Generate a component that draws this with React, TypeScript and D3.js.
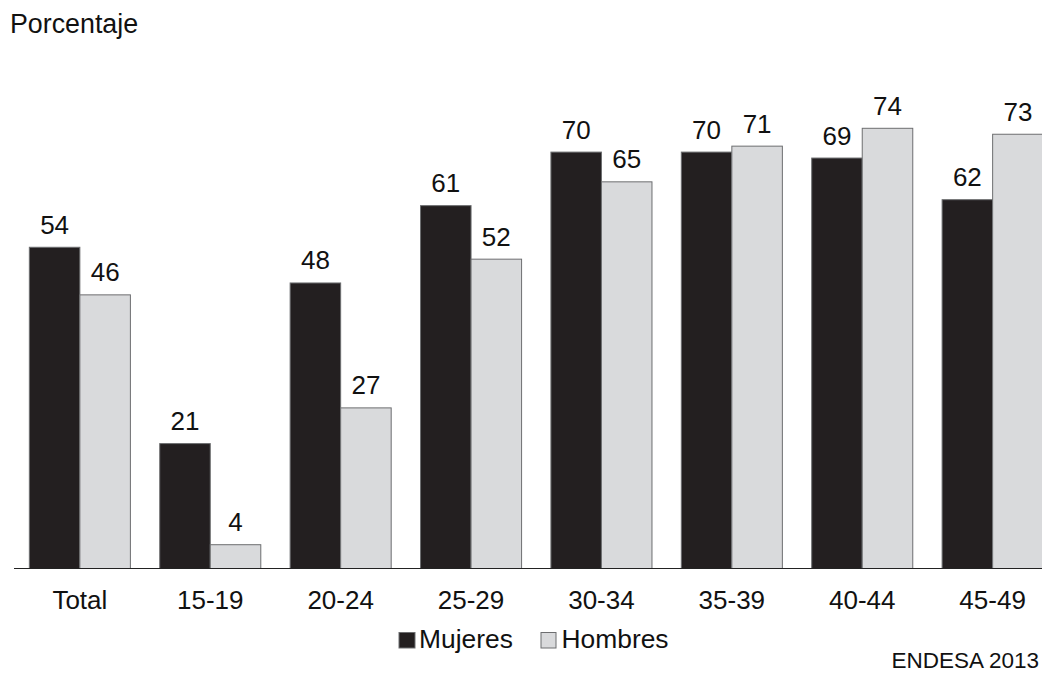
import React from "react";
import * as d3 from "d3";

const categories = ["Total", "15-19", "20-24", "25-29", "30-34", "35-39", "40-44", "45-49"];
const mujeres = [54, 21, 48, 61, 70, 70, 69, 62];
const hombres = [46, 4, 27, 52, 65, 71, 74, 73];
const seriesNames = ["Mujeres", "Hombres"];
const seriesColors = ["#231f20", "#d9dadc"];

const W = 1042;
const H = 674;
const FONT = "'Liberation Sans', Arial, Helvetica, sans-serif";

export default function App() {
  const x = d3.scaleBand<string>().domain(categories).range([0, 1072.5]).padding(0.225);
  const xi = d3.scaleBand<string>().domain(seriesNames).range([0, x.bandwidth()]);
  const y = d3.scaleLinear().domain([0, 74]).range([568.5, 128.3]);
  const data = [mujeres, hombres];

  return (
    <svg width={W} height={H} style={{ position: "absolute", left: 0, top: 0, background: "#fff" }} fontFamily={FONT}>
      <rect width={W} height={H} fill="#fff" />
      <text x={10} y={32.5} fontSize={26.8} fill="#111">Porcentaje</text>
      {categories.map((c, i) => (
        <g key={c} transform={`translate(${x(c)},0)`}>
          {seriesNames.map((s, k) => {
            const v = data[k][i];
            const bx = xi(s)!;
            return (
              <g key={s}>
                <rect x={bx} y={y(v)} width={xi.bandwidth()} height={y(0) - y(v)}
                  fill={seriesColors[k]} stroke="#6d6e70" strokeWidth={1} />
                <text x={bx + xi.bandwidth() / 2} y={y(v) - 13.5} textAnchor="middle" fontSize={26} fill="#111">{v}</text>
              </g>
            );
          })}
          <text x={x.bandwidth() / 2} y={608.5} textAnchor="middle" fontSize={26} fill="#111">{c}</text>
        </g>
      ))}
      <line x1={14} x2={W} y1={y(0)} y2={y(0)} stroke="#222" strokeWidth={1.2} />
      <g>
        <rect x={399} y={632.5} width={16} height={15.5} fill={seriesColors[0]} stroke="#6d6e70" />
        <text x={419} y={648} fontSize={26.4} fill="#111">{seriesNames[0]}</text>
        <rect x={541} y={632.5} width={15} height={15.5} fill={seriesColors[1]} stroke="#6d6e70" />
        <text x={561.5} y={648} fontSize={26.4} fill="#111">{seriesNames[1]}</text>
      </g>
      <text x={1039} y={668} textAnchor="end" fontSize={22.5} fill="#111">ENDESA 2013</text>
    </svg>
  );
}
